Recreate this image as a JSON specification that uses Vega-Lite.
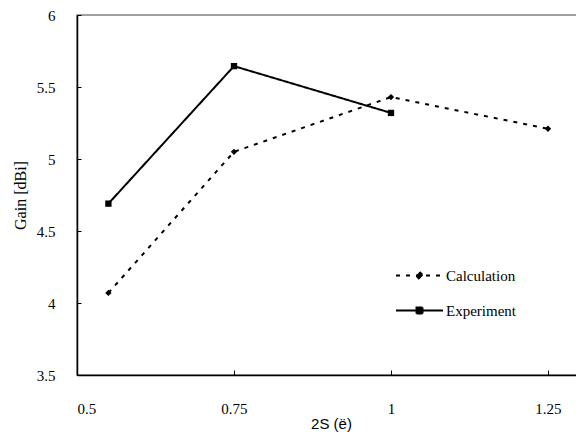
{
  "$schema": "https://vega.github.io/schema/vega-lite/v6.json",
  "width": 500,
  "height": 360,
  "autosize": {"type": "none"},
  "padding": {"left": 77, "top": 15, "right": 0, "bottom": 57},
  "background": "white",
  "config": {
    "view": {"stroke": "#808080", "strokeWidth": 1.5},
    "axis": {
      "grid": false,
      "domainColor": "black",
      "domainWidth": 1.5,
      "tickColor": "black",
      "tickWidth": 1,
      "labelColor": "black",
      "labelFont": "Liberation Serif",
      "labelFontSize": 15,
      "titleColor": "black",
      "titleFontWeight": "normal"
    }
  },
  "data": {
    "values": [
      {"s": 0.55, "gain": 4.07, "series": "Calculation"},
      {"s": 0.75, "gain": 5.05, "series": "Calculation"},
      {"s": 1.0, "gain": 5.43, "series": "Calculation"},
      {"s": 1.25, "gain": 5.21, "series": "Calculation"},
      {"s": 0.55, "gain": 4.69, "series": "Experiment"},
      {"s": 0.75, "gain": 5.645, "series": "Experiment"},
      {"s": 1.0, "gain": 5.32, "series": "Experiment"}
    ]
  },
  "encoding": {
    "x": {
      "field": "s",
      "type": "quantitative",
      "scale": {"domain": [0.5, 1.2962], "nice": false, "zero": false},
      "axis": {
        "values": [0.5, 0.75, 1, 1.25],
        "format": ".3~g",
        "tickSize": -5,
        "labelPadding": 31,
        "title": "2S (ë)",
        "titleFont": "Liberation Sans",
        "titleFontSize": 15,
        "titleX": 254,
        "titleY": 53,
        "titleBaseline": "alphabetic",
        "titleAlign": "center"
      }
    },
    "y": {
      "field": "gain",
      "type": "quantitative",
      "scale": {"domain": [3.5, 6], "nice": false, "zero": false},
      "axis": {
        "values": [3.5, 4, 4.5, 5, 5.5, 6],
        "format": ".3~g",
        "tickSize": -4,
        "labelPadding": 26,
        "title": "Gain [dBi]",
        "titleFont": "Liberation Serif",
        "titleFontSize": 16,
        "titleX": -57,
        "titleY": 180,
        "titleAngle": -90,
        "titleAlign": "center",
        "titleBaseline": "middle"
      }
    }
  },
  "layer": [
    {
      "mark": {"type": "line", "color": "black", "strokeWidth": 2},
      "encoding": {
        "strokeDash": {
          "field": "series",
          "type": "nominal",
          "scale": {"domain": ["Calculation", "Experiment"], "range": [[4, 6], [1, 0]]},
          "legend": {
            "orient": "none",
            "legendX": 335,
            "legendY": 253,
            "title": null,
            "labelFont": "Liberation Serif",
            "labelFontSize": 15,
            "labelColor": "black",
            "symbolSize": 100,
            "symbolStrokeWidth": 2,
            "symbolStrokeColor": "black",
            "symbolFillColor": "black",
            "labelOffset": 19,
            "rowPadding": 19,
            "encode": {
              "symbols": {
                "update": {
                  "shape": {"signal": "datum.value === 'Calculation' ? 'M-4.7,0H4.7M0,-0.7L0.7,0L0,0.7L-0.7,0Z' : 'M-4.7,0H4.7M-0.6,-0.6H0.6V0.6H-0.6Z'"},
                  "fill": {"value": "black"},
                  "stroke": {"value": "black"},
                  "strokeWidth": {"value": 2},
                  "strokeOpacity": {"value": 1},
                  "fillOpacity": {"value": 1},
                  "opacity": {"value": 1}
                }
              }
            }
          }
        }
      }
    },
    {
      "transform": [{"filter": "datum.series === 'Calculation'"}],
      "mark": {"type": "point", "filled": true, "color": "black", "size": 40, "opacity": 1, "shape": "diamond"}
    },
    {
      "transform": [{"filter": "datum.series === 'Experiment'"}],
      "mark": {"type": "point", "filled": true, "color": "black", "size": 40, "opacity": 1, "shape": "square"}
    }
  ]
}
